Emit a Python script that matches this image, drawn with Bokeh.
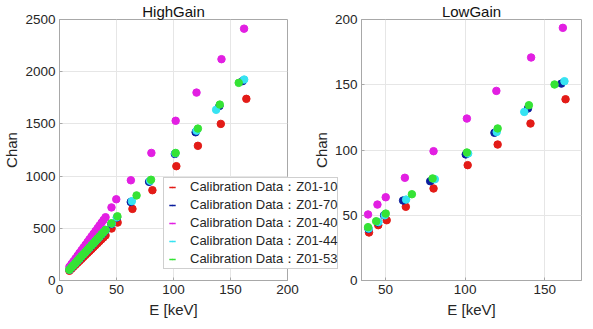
import math
from bokeh.plotting import figure
from bokeh.models import Legend, LegendItem, Range1d, FixedTicker
from bokeh.layouts import row
from bokeh.embed import file_html
from bokeh.resources import INLINE

# ---------------- data ----------------
names = ["Calibration Data：Z01-10", "Calibration Data：Z01-70", "Calibration Data：Z01-40",
         "Calibration Data：Z01-44", "Calibration Data：Z01-53"]
colors = ["#E31B17", "#0B1E9E", "#E21FE2", "#36E3F2", "#35E335"]

# HighGain (E [keV], Chan)
hg_red_e = [8.7, 10.5, 12.2, 14.0, 15.8, 17.5, 19.3, 21.0, 22.8, 24.6, 26.3, 28.1, 29.8, 31.6,
            33.4, 35.1, 36.9, 38.6, 40.4, 45.7, 51.0, 64.0, 81.5, 102.5, 121.4, 141.5, 163.9]
hg_red_c = [93, 112, 131, 150, 169, 187, 206, 225, 244, 263, 281, 300, 319, 338,
            357, 376, 395, 413, 432, 498, 555, 686, 865, 1095, 1290, 1500, 1740]
hg_blue_e = [8.8, 10.6, 12.3, 14.1, 15.8, 17.6, 19.4, 21.1, 22.9, 24.6, 26.4, 28.2, 29.9, 31.7,
             33.4, 35.2, 37.0, 38.7, 40.5, 45.5, 50.5, 62.5, 78.6, 101.2, 119.4, 140.3, 160.7]
hg_blue_c = [103, 125, 145, 167, 188, 208, 230, 250, 271, 293, 313, 334, 355, 376,
             397, 418, 439, 459, 481, 540, 603, 752, 945, 1212, 1420, 1672, 1910]
hg_mag_e = [8.7, 10.5, 12.2, 14.0, 15.8, 17.5, 19.3, 21.0, 22.8, 24.6, 26.3, 28.1, 29.8, 31.6,
            33.4, 35.1, 36.9, 38.6, 40.4, 45.6, 49.8, 62.6, 80.6, 101.9, 120.2, 142.1, 161.9]
hg_mag_c = [131, 158, 183, 210, 237, 263, 290, 315, 342, 369, 395, 422, 447, 474,
            501, 527, 554, 579, 606, 700, 778, 960, 1222, 1530, 1800, 2120, 2412]
hg_cyan_e = [8.8, 10.5, 12.3, 14.0, 15.8, 17.5, 19.3, 21.1, 22.8, 24.6, 26.3, 28.1, 29.9, 31.6,
             33.4, 35.1, 36.9, 38.6, 40.4, 45.8, 50.2, 63.5, 79.5, 101.6, 120.2, 137.4, 162.0]
hg_cyan_c = [104, 125, 146, 167, 189, 209, 231, 251, 272, 294, 314, 336, 356, 378,
             399, 419, 441, 461, 483, 545, 605, 760, 955, 1218, 1435, 1635, 1925]
hg_green_e = [8.6, 10.4, 12.2, 13.9, 15.7, 17.5, 19.2, 21.0, 22.8, 24.5, 26.3, 28.1, 29.8, 31.6,
              33.3, 35.1, 36.9, 38.6, 40.4, 45.5, 50.8, 67.6, 80.3, 101.9, 121.4, 140.6, 157.2]
hg_green_c = [104, 126, 146, 168, 190, 210, 232, 252, 274, 295, 316, 337, 358, 379,
              401, 421, 443, 463, 485, 548, 615, 815, 965, 1222, 1455, 1685, 1893]

# LowGain (E [keV], Chan)
lg_red_e = [39.7, 45.5, 50.8, 62.8, 80.2, 101.6, 120.4, 141.0, 163.0]
lg_red_c = [36.8, 42.4, 46.2, 56.5, 70.5, 88.4, 104.2, 120.3, 138.9]
lg_blue_e = [39.4, 45.3, 49.2, 61.1, 78.1, 100.4, 118.4, 139.4, 160.4]
lg_blue_c = [39.5, 44.5, 50.0, 61.3, 76.1, 96.6, 113.2, 131.8, 150.9]
lg_mag_e = [39.1, 45.0, 50.2, 62.2, 80.2, 101.1, 119.6, 141.4, 161.3]
lg_mag_c = [50.6, 58.2, 63.8, 78.7, 99.1, 124.1, 145.3, 170.9, 193.6]
lg_cyan_e = [39.5, 45.6, 49.6, 63.0, 81.0, 101.9, 119.8, 137.1, 162.3]
lg_cyan_c = [39.8, 44.8, 50.0, 62.0, 77.6, 97.3, 113.8, 129.2, 152.7]
lg_green_e = [39.1, 44.2, 50.2, 66.6, 79.6, 101.1, 120.4, 140.0, 156.1]
lg_green_c = [40.9, 45.4, 51.3, 66.1, 78.2, 98.1, 116.5, 134.3, 150.2]

hg_x_ticks = [0, 50, 100, 150, 200]
hg_y_ticks = [0, 500, 1000, 1500, 2000, 2500]
lg_x_ticks = [50, 100, 150]
lg_y_ticks = [0, 50, 100, 150, 200]

hg_series = [(hg_red_e, hg_red_c), (hg_blue_e, hg_blue_c), (hg_mag_e, hg_mag_c),
             (hg_cyan_e, hg_cyan_c), (hg_green_e, hg_green_c)]
lg_series = [(lg_red_e, lg_red_c), (lg_blue_e, lg_blue_c), (lg_mag_e, lg_mag_c),
             (lg_cyan_e, lg_cyan_c), (lg_green_e, lg_green_c)]

FONT = "Liberation Sans"
TXT = "#262626"
AX = "#a8a8a8"


def style(p, xt, yt):
    p.title.align = "center"
    p.title.text_font = FONT
    p.title.text_font_size = "15px"
    p.title.text_font_style = "normal"
    p.title.text_color = "#111111"
    p.title.standoff = 0
    p.outline_line_color = AX
    p.outline_line_width = 1
    p.xaxis.ticker = FixedTicker(ticks=xt)
    p.yaxis.ticker = FixedTicker(ticks=yt)
    for ax in (p.xaxis, p.yaxis):
        ax.axis_line_color = AX
        ax.major_tick_line_color = AX
        ax.major_tick_in = 3
        ax.major_tick_out = 0
        ax.minor_tick_line_color = None
        ax.major_label_text_font = FONT
        ax.major_label_text_font_size = "13.5px"
        ax.major_label_text_color = TXT
        ax.axis_label_text_font = FONT
        ax.axis_label_text_font_size = "15px"
        ax.axis_label_text_font_style = "normal"
        ax.axis_label_text_color = TXT
    p.xaxis.major_label_standoff = 4
    p.yaxis.major_label_standoff = 4
    p.xaxis.axis_label_standoff = 4
    p.yaxis.axis_label_standoff = 2
    p.xaxis.axis_label = "E [keV]"
    p.yaxis.axis_label = "Chan"
    p.xgrid.grid_line_color = "#e6e6e6"
    p.ygrid.grid_line_color = "#e6e6e6"
    p.xgrid.ticker = FixedTicker(ticks=xt)
    p.ygrid.ticker = FixedTicker(ticks=yt)


# ---- HighGain ----
p1 = figure(title="HighGain", frame_width=228, frame_height=261,
            min_border_left=54, min_border_right=50, min_border_top=13, min_border_bottom=39,
            x_range=Range1d(0, 200), y_range=Range1d(0, 2500),
            output_backend="svg", toolbar_location=None)
style(p1, hg_x_ticks, hg_y_ticks)
for (e, c), col in zip(hg_series, colors):
    p1.scatter(x=e, y=c, marker="circle", size=7.5, fill_color=col, line_color=col)

# ---- legend (own transparent canvas so it can overhang the axes box) ----
pl = figure(title=None, width=180, height=313,
            min_border_left=0, min_border_right=0, min_border_top=0, min_border_bottom=0,
            x_range=Range1d(-2, -1), y_range=Range1d(-2, -1),
            x_axis_location=None, y_axis_location=None, output_backend="svg",
            toolbar_location=None, margin=(0, 0, 0, -177))
pl.grid.visible = False
pl.outline_line_color = None
pl.background_fill_color = None
pl.border_fill_color = None
items = []
for (e, c), col, nm in zip(hg_series, colors, names):
    bar = pl.scatter(x=e, y=c, marker="dash", angle=math.pi / 2, size=8,
                     line_color=col, line_width=1.5)
    dot = pl.scatter(x=e, y=c, marker="dot", size=8, line_color=col, line_width=2.5,
                     fill_color=col)
    items.append(LegendItem(label=nm, renderers=[bar, dot]))
legend = Legend(items=items, location=(3, 4), padding=0, spacing=0, margin=0,
                glyph_width=16, glyph_height=16, label_height=16, label_standoff=10,
                label_text_font=FONT, label_text_font_size="13px", label_text_color=TXT,
                border_line_color="#a0a0a0", border_line_width=1,
                background_fill_color="white", background_fill_alpha=1.0)
pl.add_layout(legend, "center")

# ---- LowGain ----
p2 = figure(title="LowGain", frame_width=220, frame_height=261,
            min_border_left=54, min_border_right=1, min_border_top=13, min_border_bottom=39,
            x_range=Range1d(35, 173), y_range=Range1d(0, 200),
            output_backend="svg", toolbar_location=None, margin=(0, 0, 0, -33))
style(p2, lg_x_ticks, lg_y_ticks)
p2.border_fill_color = None
for (e, c), col in zip(lg_series, colors):
    p2.scatter(x=e, y=c, marker="circle", size=7.5, fill_color=col, line_color=col)

layout = row(p1, pl, p2, spacing=0)
open("out.html", "w").write(file_html(layout, INLINE))
